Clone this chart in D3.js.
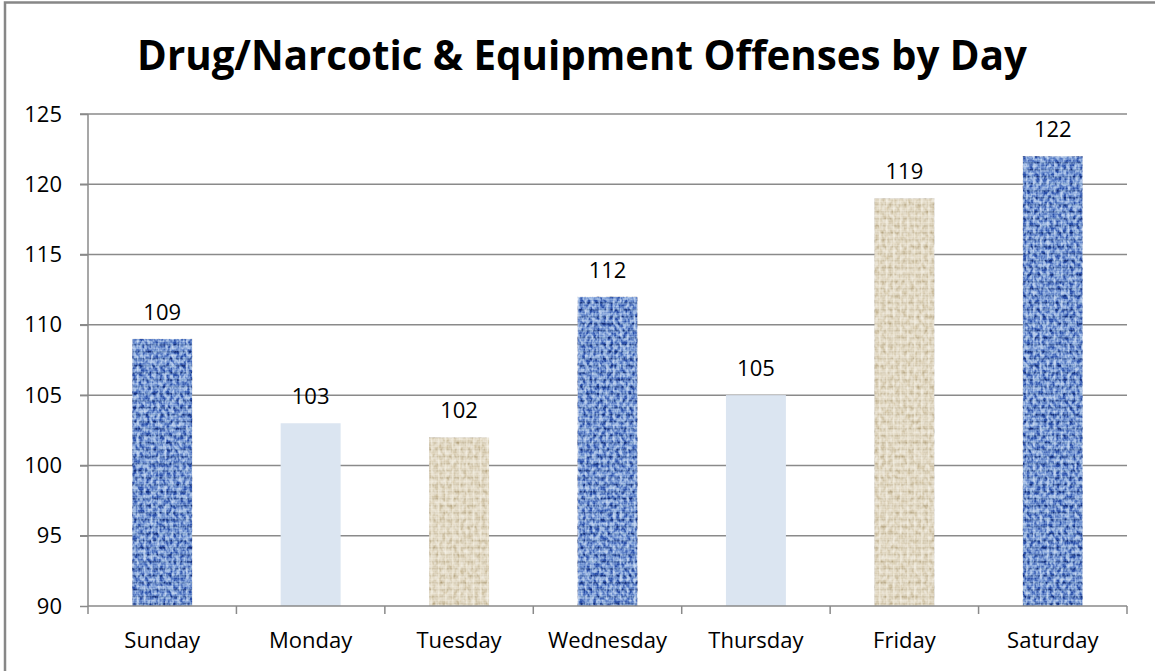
<!DOCTYPE html>
<html>
<head>
<meta charset="utf-8">
<script src="https://cdn.jsdelivr.net/npm/d3@7"></script>
<style>
  html, body { margin: 0; padding: 0; background: #fff; }
  svg { display: block; font-family: "Open Sans", "Noto Sans", sans-serif; }
</style>
</head>
<body>
<div id="chart"></div>
<script>
// chart data
const days = ["Sunday", "Monday", "Tuesday", "Wednesday", "Thursday", "Friday", "Saturday"];
const offenses = [109, 103, 102, 112, 105, 119, 122];
const yTicks = [90, 95, 100, 105, 110, 115, 120, 125];
const chartTitle = "Drug/Narcotic & Equipment Offenses by Day";

window.onload = function() {
    const width = 1155, height = 671;
    const left = 88, right = 1127, top = 114, bottom = 606;

    const svg = d3.select("#chart").append("svg")
        .attr("width", width).attr("height", height);

    // --- textures ---
    const defs = svg.append("defs");

    function weave(id, base, dark, light, size) {
        const p = defs.append("pattern").attr("id", id)
            .attr("patternUnits", "userSpaceOnUse")
            .attr("width", size).attr("height", size);
        p.append("rect").attr("width", size).attr("height", size).attr("fill", base);
        p.append("rect").attr("x", 0).attr("y", 1).attr("width", size).attr("height", 1.5).attr("fill", dark).attr("opacity", 0.5);
        p.append("rect").attr("x", 4).attr("y", 0).attr("width", 1.5).attr("height", size).attr("fill", light).attr("opacity", 0.5);
        p.append("rect").attr("x", 0).attr("y", 5).attr("width", size).attr("height", 1).attr("fill", light).attr("opacity", 0.3);
    }
    weave("denim", "#6d90d0", "#34548f", "#b8cdf0", 7);
    weave("burlap", "#e0d7c2", "#c8bb9d", "#f5f1e4", 7);

    function noise(id, freq, strength) {
        const f = defs.append("filter").attr("id", id)
            .attr("x", 0).attr("y", 0).attr("width", 1).attr("height", 1);
        f.append("feTurbulence").attr("type", "fractalNoise")
            .attr("baseFrequency", freq).attr("numOctaves", 2).attr("seed", 7).attr("result", "n");
        const s = strength, o = 0.5 - s / 2;
        f.append("feColorMatrix").attr("in", "n").attr("type", "matrix")
            .attr("values", `${s} 0 0 0 ${o}  ${s} 0 0 0 ${o}  ${s} 0 0 0 ${o}  0 0 0 0 1`)
            .attr("result", "g");
        f.append("feBlend").attr("in", "g").attr("in2", "SourceGraphic").attr("mode", "soft-light").attr("result", "b");
        f.append("feComposite").attr("in", "b").attr("in2", "SourceGraphic").attr("operator", "in");
    }
    noise("rough", "0.3 0.22", 2.6);
    noise("rough2", "0.28 0.2", 1.3);

    const fills = ["url(#denim)", "#dbe5f1", "url(#burlap)"];
    const filters = ["url(#rough)", null, "url(#rough2)"];

    // --- border ---
    svg.append("path").attr("d", `M5,${height} V2.5 H${width}`)
        .attr("fill", "none").attr("stroke", "#878787").attr("stroke-width", 2.5);

    // --- title ---
    const title = svg.append("text")
        .attr("x", 582).attr("y", 70)
        .attr("text-anchor", "middle")
        .attr("font-weight", "bold")
        .attr("font-size", 36)
        .attr("fill", "#000")
        .text(chartTitle);
    const tw = title.node().getComputedTextLength();
    title.attr("font-size", 36 * 890 / tw);

    // --- scales ---
    const x = d3.scaleBand().domain(days).range([left, right]).paddingInner(0.596).paddingOuter(0.298);
    const y = d3.scaleLinear().domain([90, 125]).range([bottom, top]);
    const step = (right - left) / days.length;

    // gridlines
    svg.append("g").selectAll("line").data(yTicks.slice(1)).join("line")
        .attr("x1", left - 8).attr("x2", right)
        .attr("y1", d => y(d)).attr("y2", d => y(d))
        .attr("stroke", "#8a8a8a").attr("stroke-width", 1.5);

    // y axis
    const yAxis = svg.append("g").attr("transform", `translate(${left},0)`)
        .call(d3.axisLeft(y).tickValues(yTicks).tickSize(8).tickPadding(18));
    yAxis.select(".domain").attr("stroke", "#8a8a8a").attr("stroke-width", 1.5).attr("d", `M0,${top}V${bottom}`);
    yAxis.selectAll(".tick line").attr("stroke", "#8a8a8a").attr("stroke-width", 1.5);
    yAxis.selectAll(".tick text").attr("font-size", 22).attr("fill", "#000")
        .attr("font-family", "Open Sans, sans-serif");

    // bars
    svg.append("g").selectAll("rect").data(offenses).join("rect")
        .attr("x", (d, i) => x(days[i]))
        .attr("width", x.bandwidth())
        .attr("y", d => y(d))
        .attr("height", d => y(90) - y(d))
        .attr("fill", (d, i) => fills[i % 3])
        .attr("filter", (d, i) => filters[i % 3]);

    // data labels
    svg.append("g").selectAll("text").data(offenses).join("text")
        .attr("x", (d, i) => x(days[i]) + x.bandwidth() / 2)
        .attr("y", d => y(d) - 19)
        .attr("text-anchor", "middle")
        .attr("font-size", 22)
        .attr("fill", "#000")
        .text(d => d);

    // x axis
    const xg = svg.append("g");
    xg.append("line").attr("x1", left).attr("x2", right).attr("y1", bottom).attr("y2", bottom)
        .attr("stroke", "#8a8a8a").attr("stroke-width", 1.5);
    xg.selectAll(".tk").data(d3.range(days.length + 1)).join("line").attr("class", "tk")
        .attr("x1", i => left + i * step).attr("x2", i => left + i * step)
        .attr("y1", bottom).attr("y2", bottom + 8)
        .attr("stroke", "#8a8a8a").attr("stroke-width", 1.5);
    xg.selectAll("text").data(days).join("text")
        .attr("x", d => x(d) + x.bandwidth() / 2)
        .attr("y", 648)
        .attr("text-anchor", "middle")
        .attr("font-size", 22)
        .attr("fill", "#000")
        .text(d => d);
};
</script>
</body>
</html>
